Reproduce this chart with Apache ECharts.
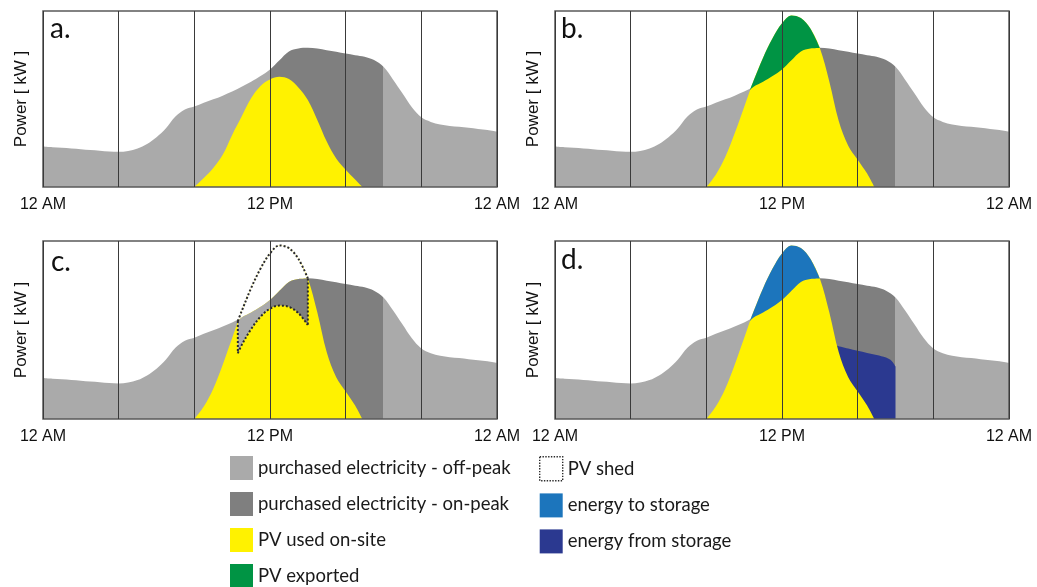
<!DOCTYPE html>
<html>
<head>
<meta charset="utf-8">
<script src="https://cdn.jsdelivr.net/npm/echarts@6/dist/echarts.min.js"></script>
<style>
html,body{margin:0;padding:0;background:#fff;}
#chart{width:1037px;height:587px;}
</style>
</head>
<body>
<div id="chart"></div>
<script>
// ---------- data (hours 0..24, power in relative units 0..100) ----------
const hourMin = 0, hourMax = 24, hourStep = 4;
const xTickValues = [0, 12, 24];
const xTickLabels = ['12 AM', '12 PM', '12 AM'];
const onPeakStart = 12, onPeakEnd = 18;
const panelLetters = ['a.', 'b.', 'c.', 'd.'];
const yAxisName = 'Power [ kW ]';

// site load (purchased electricity outline)
const loadProfile = [
  [0,23.0],[0.5,22.6],[1,22.3],[1.5,21.9],[2,21.5],[2.5,21.0],[3,20.6],[3.5,20.2],[4,20.0],[4.5,20.5],
  [5,21.9],[5.5,24.5],[6,28.3],[6.5,33.4],[7,40.0],[7.5,44.0],[8,45.7],[8.5,47.9],[9,49.8],[9.5,51.9],
  [10,54.2],[10.5,57.0],[11,59.8],[11.5,63.0],[12,66.8],[12.5,72.0],[13,77.0],[13.5,78.7],[14,79.1],
  [14.5,78.7],[15,77.7],[15.5,76.8],[16,75.8],[16.5,74.9],[17,74.0],[17.5,72.1],[18,68.3],[18.5,61.1],
  [19,53.2],[19.5,45.3],[20,39.6],[20.5,37.0],[21,35.5],[21.5,34.7],[22,34.2],[22.5,33.6],[23,33.0],
  [23.5,32.4],[24,31.5]
];
// small PV system (panel a)
const pvSmall = [
  [8,0],[8.5,5.1],[9,10.8],[9.5,18.3],[10,29.6],[10.5,40.0],[11,50.4],[11.5,57.4],[12,61.1],[12.5,62.6],
  [13,61.3],[13.5,56.6],[14,49.4],[14.5,38.1],[15,25.8],[15.5,16.2],[16,9.8],[16.5,4.2],[16.88,0]
];
// large PV system (panels b, c, d)
const pvLarge = [
  [8,0],[8.5,7.0],[9,17.0],[9.5,30.5],[10,45.5],[10.5,60.5],[11,73.5],[11.5,84.5],[12,93.0],[12.5,97.5],
  [13,96.0],[13.5,90.0],[14,79.0],[14.5,60.0],[15,37.5],[15.5,23.5],[16,15.5],[16.5,7.6],[16.88,0]
];
// points where the large PV curve crosses the load
const pvCrossings = [[10.3,55.0],[14.0,79.0]];
// curtailed PV top (panel c, lower dotted edge)
const pvCurtailedTop = [
  [10.3,37.0],[10.5,41.5],[11,50.5],[11.5,57.5],[12,62.0],[12.5,63.7],[13,63.0],[13.5,59.5],[14,52.8]
];
// battery discharge top (panel d)
const storageDischarge = [
  [14.9,41.2],[15.5,39.6],[16,38.3],[16.5,37.1],[17,36.0],[17.5,34.5],[17.8,32.6],[18,29.5]
];

const legendLeftItems = ['purchased electricity - off-peak','purchased electricity - on-peak','PV used on-site','PV exported'];
const legendRightItems = ['PV shed','energy to storage','energy from storage'];

// ---------- styles ----------
const C = {
  offPeak: '#aaaaaa', onPeak: '#7f7f7f', pvUsed: '#fff200', pvExport: '#009444',
  toStorage: '#1c75bc', fromStorage: '#2b3990', shed: '#2a2a2a',
  frame: '#5a5a5a', split: '#3a3a3a', text: '#111111'
};
const gridBoxes = [
  {left:43, top:11, width:454, height:176},
  {left:555, top:11, width:454, height:176},
  {left:43, top:241, width:454, height:178},
  {left:555, top:241, width:454, height:178}
];
const letterPos = [[50,15],[561,15],[51,248],[561,246]];

// ---------- derived tables ----------
const between = (arr, a, b) => arr.filter(p => p[0] > a && p[0] < b);
const cross0 = pvCrossings[0], cross1 = pvCrossings[1];
const loadMid = [cross0].concat(between(loadProfile, cross0[0], cross1[0]), [cross1]);
const pvMid = [cross0].concat(between(pvLarge, cross0[0], cross1[0]), [cross1]);
const pvExcess = loadMid.map((p, i) => [p[0], pvMid[i][1] - p[1]]);
const loadAboveCurtailed = pvCurtailedTop.map((p, i) => [p[0], loadMid[i][1] - p[1]]);
// stacked series keep the power value in dimension 0 so ECharts stacks it (y), hour in dimension 1 (x)
const swap = arr => arr.map(p => [p[1], p[0]]);
const stackEncode = {x: 1, y: 0};

// ---------- series ----------
const series = [];
const grayIdx = [];
let grayStackIdx = [];
function area(name, gi, data, color, extra) {
  series.push(Object.assign({
    type: 'line', name, xAxisIndex: gi, yAxisIndex: gi, data,
    smooth: 0.35, symbol: 'none', silent: true,
    lineStyle: {width: 0},
    areaStyle: {color: color, opacity: 1},
    itemStyle: {color: color},
    z: 2
  }, extra || {}));
  return series.length - 1;
}
function stackBase(gi, data, stack) {
  series.push({
    type: 'line', name: '', xAxisIndex: gi, yAxisIndex: gi, data: swap(data), encode: stackEncode, stack,
    smooth: 0.35, symbol: 'none', silent: true, lineStyle: {width: 0, opacity: 0}, z: 2
  });
}
function stackTop(name, gi, data, color, stack, extra) {
  return area(name, gi, swap(data), color, Object.assign({stack, encode: stackEncode}, extra || {}));
}
function dotted(gi, data, smooth) {
  series.push({
    type: 'line', name: 'PV shed', xAxisIndex: gi, yAxisIndex: gi, data,
    smooth: smooth ? 0.35 : false, symbol: 'none', silent: true,
    lineStyle: {width: 2, color: C.shed, type: [2, 2]},
    itemStyle: {color: C.shed}, z: 3
  });
}
function addLoad(gi) {
  grayIdx.push(area('purchased electricity - off-peak', gi, loadProfile, C.offPeak,
    {areaStyle: {opacity: 1}}));
}

// panel a
addLoad(0);
area('PV used on-site', 0, pvSmall, C.pvUsed);
series.push({type:'line', name:'purchased electricity - on-peak', xAxisIndex:0, yAxisIndex:0, data:[], itemStyle:{color:C.onPeak}});

// panel b
addLoad(1);
area('PV used on-site', 1, pvLarge, C.pvUsed);
stackBase(1, loadMid, 'bExport');
stackTop('PV exported', 1, pvExcess, C.pvExport, 'bExport');

// panel c
addLoad(2);
area('PV used on-site', 2, pvLarge, C.pvUsed);
stackBase(2, loadMid, 'cShed');
stackTop('PV shed', 2, pvExcess, '#ffffff', 'cShed');
stackBase(2, pvCurtailedTop, 'cGray');
grayStackIdx.push(stackTop('purchased electricity - off-peak', 2, loadAboveCurtailed, C.offPeak, 'cGray',
  {areaStyle: {opacity: 1}}));
dotted(2, pvMid, true);
dotted(2, pvCurtailedTop, true);
dotted(2, [cross0, pvCurtailedTop[0]], false);
dotted(2, [cross1, pvCurtailedTop[pvCurtailedTop.length - 1]], false);

// panel d
addLoad(3);
area('energy from storage', 3, storageDischarge, C.fromStorage);
area('PV used on-site', 3, pvLarge, C.pvUsed);
stackBase(3, loadMid, 'dStore');
stackTop('energy to storage', 3, pvExcess, C.toStorage, 'dStore');

const legendStyles = {
  'purchased electricity - off-peak': {color: C.offPeak, borderWidth: 0},
  'purchased electricity - on-peak': {color: C.onPeak, borderWidth: 0},
  'PV used on-site': {color: C.pvUsed, borderWidth: 0},
  'PV exported': {color: C.pvExport, borderWidth: 0},
  'PV shed': {color: '#ffffff', borderColor: C.shed, borderWidth: 1.4, borderType: [1.4, 1.4]},
  'energy to storage': {color: C.toStorage, borderWidth: 0},
  'energy from storage': {color: C.fromStorage, borderWidth: 0}
};
function legendBlock(left, items) {
  return {
    orient: 'vertical', left: left, top: 456, height: 140, padding: 0,
    itemWidth: 23, itemHeight: 24, itemGap: 12, icon: 'rect',
    selectedMode: false, symbolKeepAspect: false,
    textStyle: {fontSize: 18.5, fontFamily: 'Lato', color: '#1a1a1a'},
    data: items.map(n => ({name: n, icon: 'rect', itemStyle: legendStyles[n]}))
  };
}
const peakPieces = [
  {lt: onPeakStart, color: C.offPeak},
  {gte: onPeakStart, lt: onPeakEnd, color: C.onPeak},
  {gte: onPeakEnd, color: C.offPeak}
];

const option = {
  animation: false,
  backgroundColor: '#ffffff',
  title: panelLetters.map((t, i) => ({
    text: t, left: letterPos[i][0], top: letterPos[i][1], padding: 0,
    textStyle: {fontSize: 28, fontWeight: 'normal', fontFamily: 'Lato', color: C.text}
  })),
  grid: gridBoxes.map(g => Object.assign({
    show: true, backgroundColor: 'transparent', borderColor: C.frame, borderWidth: 1.5, z: 10
  }, g)),
  xAxis: gridBoxes.map((g, i) => ({
    type: 'value', gridIndex: i, min: hourMin, max: hourMax, interval: hourStep, z: 10,
    axisLine: {show: false}, axisTick: {show: false},
    splitLine: {show: true, lineStyle: {color: C.split, width: 1}},
    axisLabel: {
      show: true, margin: 10, fontSize: 16, fontFamily: 'Liberation Sans', color: C.text,
      showMinLabel: true, showMaxLabel: true,
      formatter: v => { const k = xTickValues.indexOf(v); return k >= 0 ? xTickLabels[k] : ''; }
    }
  })),
  yAxis: gridBoxes.map((g, i) => ({
    type: 'value', gridIndex: i, min: 0, max: 100,
    name: yAxisName, nameLocation: 'middle', nameGap: 13, nameRotate: 90,
    nameTextStyle: {fontSize: 17, fontFamily: 'Liberation Sans', color: C.text},
    axisLine: {show: false}, axisTick: {show: false}, axisLabel: {show: false}, splitLine: {show: false}
  })),
  visualMap: [
    {type: 'piecewise', show: false, dimension: 0, seriesIndex: grayIdx, pieces: peakPieces},
    {type: 'piecewise', show: false, dimension: 1, seriesIndex: grayStackIdx, pieces: peakPieces}
  ],
  legend: [legendBlock(230, legendLeftItems), legendBlock(539, legendRightItems)],
  series: series
};

const chart = echarts.init(document.getElementById('chart'), null, {renderer: 'canvas'});
chart.setOption(option);
</script>
</body>
</html>
